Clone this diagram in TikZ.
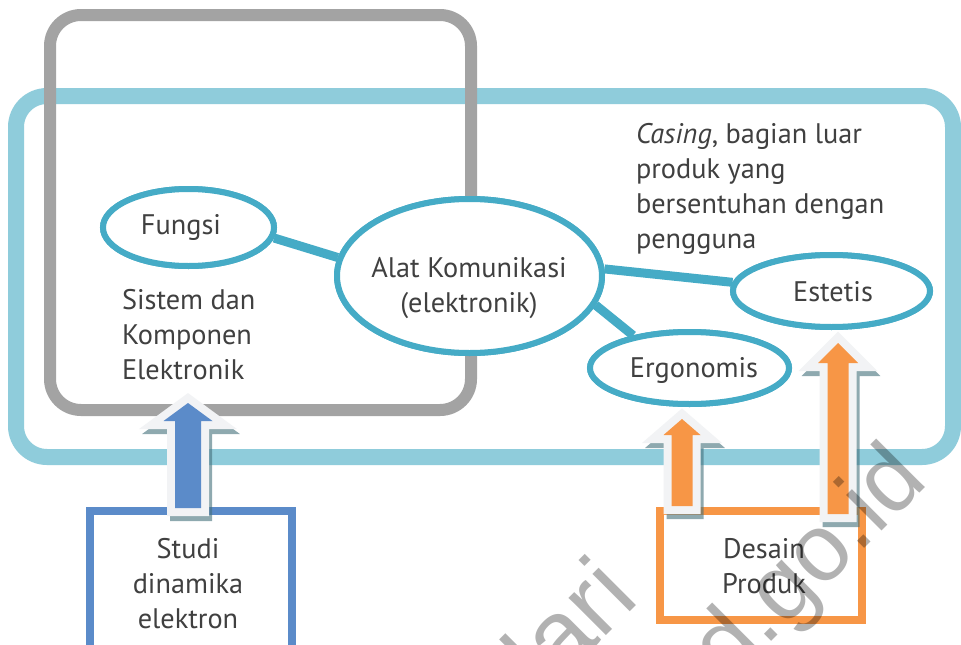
\documentclass[tikz,border=0pt]{standalone}
\usepackage{fontspec}
\setmainfont{PT Sans}
\newfontfamily\wmfont{Liberation Sans}
\usetikzlibrary{shapes.geometric}
\definecolor{txt}{HTML}{404040}
\definecolor{frameblue}{HTML}{8FCCDB}
\definecolor{framegray}{HTML}{A3A3A3}
\definecolor{ringteal}{HTML}{45ABC6}
\definecolor{boxblue}{HTML}{5B8BC9}
\definecolor{boxorange}{HTML}{F79646}
\definecolor{halo}{HTML}{F2F3F5}
\definecolor{shade}{HTML}{44707B}
% block arrow pointing up: #1 centre x, #2 tip y, #3 head base y, #4 head half width, #5 shaft half width, #6 bottom y, #7 colour
\newcommand\uparrowblock[7]{%
  \draw[arrowshadow, shift={(3,5)}] (#1-#5,#6) -- (#1-#5,#3) -- (#1-#4,#3) -- (#1,#2) -- (#1+#4,#3) -- (#1+#5,#3) -- (#1+#5,#6) -- cycle;
  \draw[arrowhalo] (#1-#5,#6) -- (#1-#5,#3) -- (#1-#4,#3) -- (#1,#2) -- (#1+#4,#3) -- (#1+#5,#3) -- (#1+#5,#6) -- cycle;
  \fill[#7] (#1-#5,#6) -- (#1-#5,#3) -- (#1-#4,#3) -- (#1,#2) -- (#1+#4,#3) -- (#1+#5,#3) -- (#1+#5,#6) -- cycle;
}
\begin{document}
\begin{tikzpicture}[x=1pt,y=-1pt,
  lbl/.style={text=txt, font=\fontsize{28.3}{35}\selectfont, inner sep=0pt, outer sep=0pt},
  bubble/.style={ellipse, draw=ringteal, line width=6pt, fill=white, inner sep=0pt},
  link/.style={draw=ringteal, line width=9pt},
  frame/.style={line width=#1, rounded corners=31pt},
  srcbox/.style={rectangle, draw=#1, line width=8pt, inner sep=0pt, minimum width=202pt},
  arrowshadow/.style={draw=shade, draw opacity=.6, line width=16pt, miter limit=20},
  arrowhalo/.style={draw=halo, fill=halo, line width=16pt, miter limit=20},
  wm/.style={text=black, text opacity=.3, font=\wmfont\fontsize{#1}{#1}\selectfont, rotate=45, inner sep=0pt, anchor=base east}
]
\useasboundingbox (0,0) rectangle (961,645);
\fill[white] (0,0) rectangle (961,645);

% outer frames
\draw[frame=16pt, frameblue] (16,96) rectangle (953,457);
\draw[frame=12pt, framegray] (50,15) rectangle (471,410);

% ellipses (first pass gives the anchors for the links)
\node[bubble, minimum width=171pt, minimum height=77pt] (fungsi) at (188.5,227.5) {};
\node[bubble, minimum width=265pt, minimum height=154pt] (alat) at (469.5,276) {};
\node[bubble, minimum width=197pt, minimum height=72pt] (estetis) at (831.5,291) {};
\node[bubble, minimum width=199pt, minimum height=72pt] (ergo) at (689.5,368) {};

% links between the ellipses
\path[link] (fungsi.-7) -- (alat.172);
\path[link] (alat.3) -- (estetis.175);
\path[link] (alat.-13) -- (ergo.150);

% redraw the ellipses over the link ends
\node[bubble, minimum width=171pt, minimum height=77pt] (fungsiTop) at (fungsi.center) {};
\node[bubble, minimum width=265pt, minimum height=154pt] (alatTop) at (alat.center) {};
\node[bubble, minimum width=197pt, minimum height=72pt] (estetisTop) at (estetis.center) {};
\node[bubble, minimum width=199pt, minimum height=72pt] (ergoTop) at (ergo.center) {};

% labels
\node[lbl] (fungsiText) at (181,227) {Fungsi};
\node[lbl, align=center] (alatText) at (469,288) {Alat Komunikasi\\(elektronik)};
\node[lbl] (estetisText) at (833,292) {Estetis};
\node[lbl] (ergoText) at (694,370) {Ergonomis};
\node[lbl, align=left, anchor=west] (sistem) at (122,335) {Sistem dan\\Komponen\\Elektronik};
\node[lbl, align=left, anchor=west] (casing) at (636,189) {\textit{Casing}, bagian luar\\produk yang\\bersentuhan dengan\\pengguna};

% source boxes
\node[srcbox=boxblue, minimum height=144pt] (studi) at (191,583) {};
\node[srcbox=boxorange, minimum height=109pt] (desain) at (761,565.5) {};
\node[lbl, align=center] (studiText) at (188,584) {Studi\\dinamika\\elektron};
\node[lbl, align=center] (desainText) at (764,566) {Desain\\Produk};

% block arrows: shadow, light halo, coloured body
\uparrowblock{188}{403}{421}{24.5}{13}{508}{boxblue}
\uparrowblock{682}{419}{435}{18.5}{10.5}{506}{boxorange}
\uparrowblock{838}{343}{363}{20}{10.5}{514}{boxorange}

% watermark
\node[wm=100] (wmA) at (641,601) {dari};
\node[wm=95] (wmB) at (930,483) {d.go.id};
\end{tikzpicture}
\end{document}
